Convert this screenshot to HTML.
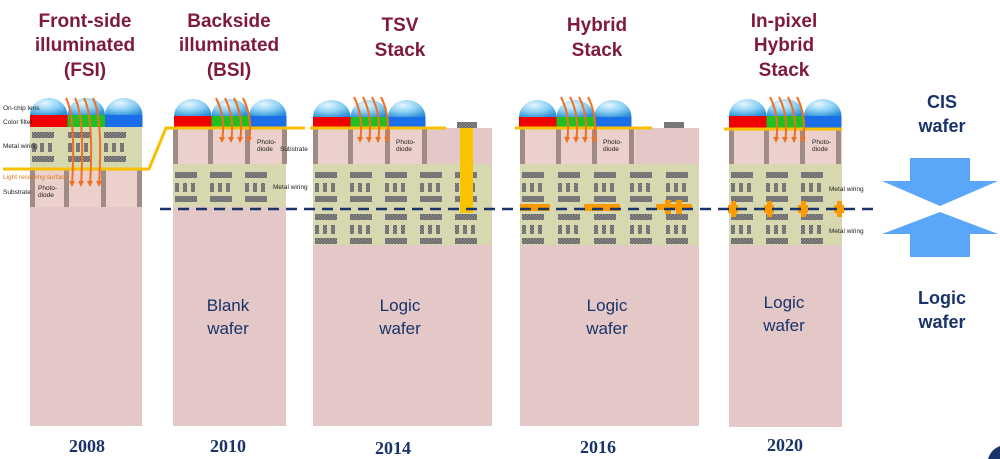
<!DOCTYPE html>
<html><head><meta charset="utf-8"><style>
html,body{margin:0;padding:0;background:#fff;width:1000px;height:459px;overflow:hidden}
svg{display:block;overflow:hidden}
.t{font-family:"Liberation Sans",sans-serif;font-weight:bold;font-size:19px;fill:#7f1a3c;text-anchor:middle}
.y{font-family:"Liberation Serif",serif;font-weight:bold;font-size:18px;fill:#1a3368;text-anchor:middle}
.w{font-family:"Liberation Sans",sans-serif;font-size:17px;fill:#1a3368;text-anchor:middle}
.wb{font-family:"Liberation Sans",sans-serif;font-size:18px;font-weight:bold;fill:#1a3368;text-anchor:middle}
.s{font-family:"Liberation Sans",sans-serif;font-size:6.5px;fill:#222}
</style></head><body>
<svg id="s" width="1000" height="459" viewBox="0 0 1000 459" xmlns="http://www.w3.org/2000/svg">
<defs>
<pattern id="chk" width="3" height="3" patternUnits="userSpaceOnUse"><rect width="3" height="3" fill="#5e5e5e"/><rect width="1.5" height="1.5" fill="#909090"/><rect x="1.5" y="1.5" width="1.5" height="1.5" fill="#909090"/></pattern>
<radialGradient id="lens" cx="0.4" cy="0.3" r="0.8"><stop offset="0" stop-color="#e6f6ff"/><stop offset="0.5" stop-color="#8cd0f4"/><stop offset="1" stop-color="#2a8fd6"/></radialGradient>
</defs>
<g id="g"></g>
<text class="t" x="85" y="27">Front-side</text><text class="t" x="85" y="51">illuminated</text><text class="t" x="85" y="76">(FSI)</text>
<text class="t" x="229" y="27">Backside</text><text class="t" x="229" y="51">illuminated</text><text class="t" x="229" y="76">(BSI)</text>
<text class="t" x="400" y="31">TSV</text><text class="t" x="400" y="56">Stack</text>
<text class="t" x="597" y="31">Hybrid</text><text class="t" x="597" y="56">Stack</text>
<text class="t" x="784" y="27">In-pixel</text><text class="t" x="784" y="51">Hybrid</text><text class="t" x="784" y="76">Stack</text>
<text class="y" x="87" y="452">2008</text><text class="y" x="228" y="452">2010</text><text class="y" x="393" y="454">2014</text><text class="y" x="598" y="453">2016</text><text class="y" x="785" y="451">2020</text>
<text class="w" x="228" y="311">Blank</text><text class="w" x="228" y="334">wafer</text>
<text class="w" x="400" y="311">Logic</text><text class="w" x="400" y="334">wafer</text>
<text class="w" x="607" y="311">Logic</text><text class="w" x="607" y="334">wafer</text>
<text class="w" x="784" y="308">Logic</text><text class="w" x="784" y="331">wafer</text>
<text class="wb" x="942" y="108">CIS</text><text class="wb" x="942" y="132">wafer</text>
<text class="wb" x="942" y="304">Logic</text><text class="wb" x="942" y="328">wafer</text>
<text class="s" x="3" y="110">On-chip lens</text>
<text class="s" x="3" y="124">Color filter</text>
<text class="s" x="3" y="148">Metal wiring</text>
<text class="s" x="3" y="179" style="fill:#e07820">Light receiving surface</text>
<text class="s" x="3" y="194">Substrate</text>
<text class="s" x="38" y="190">Photo-</text><text class="s" x="38" y="197">diode</text>
<text class="s" x="257" y="144">Photo-</text><text class="s" x="257" y="151">diode</text><text class="s" x="280" y="151">Substrate</text>
<text class="s" x="273" y="189">Metal wiring</text>
<text class="s" x="396" y="144">Photo-</text><text class="s" x="396" y="151">diode</text>
<text class="s" x="603" y="144">Photo-</text><text class="s" x="603" y="151">diode</text>
<text class="s" x="812" y="144">Photo-</text><text class="s" x="812" y="151">diode</text>
<text class="s" x="829" y="191">Metal wiring</text>
<text class="s" x="829" y="233">Metal wiring</text>
</svg>
<script>
var g=document.getElementById('g'),NS='http://www.w3.org/2000/svg';
function E(t,a){var e=document.createElementNS(NS,t);for(var k in a)e.setAttribute(k,a[k]);g.appendChild(e);return e;}
function R(x,y,w,h,f){return E('rect',{x:x,y:y,width:w,height:h,fill:f});}
var PINK='#e4c8c8',PD='#ebd0cc',BEI='#d8d8b0',POST='#a08c84';
function wiring(x0,x1,y,pitch){for(var x=x0+2;x+20<=x1+2;x+=pitch){var w=Math.min(22,x1-x-1);R(x,y,w,6,'url(#chk)');for(var i=0;i<3;i++)if(x+i*8+4<=x1)R(x+i*8,y+11,4,9,'url(#chk)');R(x,y+24,w,6,'url(#chk)');}}
function lenses(x0,y){var cols=['#f00000','#20c020','#1a6ee8'];for(var i=0;i<3;i++){var x=x0+i*37.5;E('path',{d:'M'+x+' '+(y+15)+' A18.75 17 0 0 1 '+(x+37.5)+' '+(y+15)+' Z',fill:'url(#lens)'});R(x,y+15,37.5,12,cols[i]);}}
function arrows(x0,ytop,yend){for(var i=0;i<4;i++){var x=x0+i*9;E('path',{d:'M'+(x-6)+' '+ytop+' Q'+(x+4)+' '+(ytop+20)+' '+x+' '+yend,stroke:'#f07020','stroke-width':2,fill:'none'});E('path',{d:'M'+(x-3)+' '+(yend-4)+' L'+(x+3)+' '+(yend-4)+' L'+x+' '+(yend+2)+'Z',fill:'#f07020'});}}
function posts(xs,y,h){xs.forEach(function(x){R(x,y,5,h,POST);});}
R(30,207,112,219,PINK);R(30,168,112,39,PD);posts([30,64,101,137],168,39);
R(30,127,112,41,BEI);wiring(30,142,132,36);
lenses(30,100);
R(173,207,113,219,PINK);R(173,164,113,43,BEI);wiring(173,286,172,35);
R(173,128,113,36,PD);posts([173,208,245,282],128,36);lenses(174,101);
R(313,245,179,181,PINK);R(313,164,179,81,BEI);wiring(313,492,172,35);wiring(313,492,214,35);
R(313,128,179,36,PINK);R(313,128,112,36,PD);posts([313,348,385,422],128,36);lenses(313,102);
R(457,122,20,6,'url(#chk)');R(460,128,13,85,'#f8c400');
R(520,245,179,181,PINK);R(520,164,179,81,BEI);wiring(520,699,172,36);wiring(520,699,214,36);
R(520,128,179,36,PINK);R(520,128,116,36,PD);posts([520,556,592,629],128,36);lenses(519,102);
R(664,122,20,6,'url(#chk)');
R(520,204,30,7,'#f89a00');R(584,204,36,7,'#f89a00');R(656,204,36,6,'#f89a00');R(665,200,6,14,'#f89a00');R(676,200,6,14,'#f89a00');
R(729,245,113,182,PINK);R(729,164,113,81,BEI);wiring(729,842,172,35);wiring(729,842,214,35);
R(729,129,113,35,PD);posts([729,764,800,836],129,35);lenses(729,101);
[731,767,801,837].forEach(function(x){R(x-3,205,10,8,'#f89a00');R(x,201,5,16,'#f89a00');});
E('polyline',{points:'3,169 149,169 166,128 305,128',stroke:'#f8c000','stroke-width':3,fill:'none'});
E('line',{x1:310,y1:128,x2:446,y2:128,stroke:'#f8c000','stroke-width':3});
E('line',{x1:515,y1:128,x2:652,y2:128,stroke:'#f8c000','stroke-width':3});
E('line',{x1:724,y1:129,x2:842,y2:129,stroke:'#f8c000','stroke-width':3});
arrows(72,98,185);arrows(222,98,141);arrows(360,97,141);arrows(567,97,141);arrows(776,97,141);
E('line',{x1:160,y1:209,x2:876,y2:209,stroke:'#1a3368','stroke-width':2.5,'stroke-dasharray':'11 7'});
E('path',{d:'M910 158 L970 158 L970 181 L998 181 L940 206 L882 181 L910 181 Z',fill:'#5aa6f8'});
E('path',{d:'M940 212 L998 234 L970 234 L970 257 L910 257 L910 234 L882 234 Z',fill:'#5aa6f8'});
E('path',{d:'M988 459 A20 20 0 0 1 1000 446 L1000 459 Z',fill:'#1a3368'});
</script>
</body></html>
